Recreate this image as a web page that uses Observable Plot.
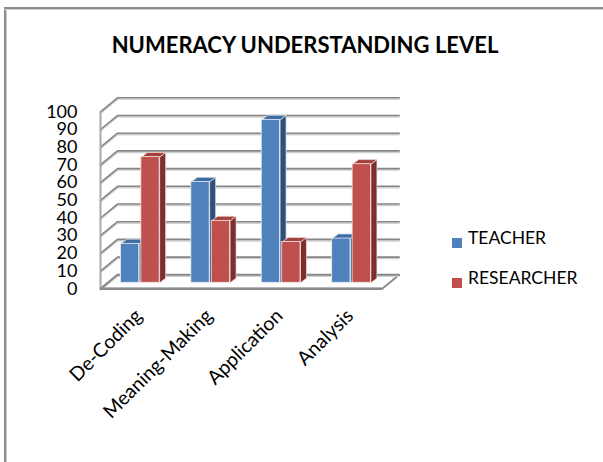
<!DOCTYPE html>
<html>
<head>
<meta charset="utf-8">
<script src="https://cdn.jsdelivr.net/npm/d3@7"></script>
<script src="https://cdn.jsdelivr.net/npm/@observablehq/plot@0.6"></script>
<style>
  html, body { margin: 0; padding: 0; background: #fff; }
  #chart { position: relative; width: 603px; height: 462px; overflow: hidden; font-family: Lato, "Open Sans", sans-serif; color: #000; }
  #borderL { position: absolute; left: 4px; top: 7px; width: 2px; height: 460px; background: #8c8c8c; border-right: 1px solid #cfcfcf; }
  #borderT { position: absolute; left: 4px; top: 7px; width: 603px; height: 2px; background: #8c8c8c; border-bottom: 1px solid #cfcfcf; }
  #title { position: relative; height: 70px; }
  #title span { position: absolute; left: 0; width: 610px; text-align: center; top: 31px; font-weight: 700; font-size: 22px; white-space: nowrap; }
  #plot { position: relative; }
  .legend { position: absolute; left: 452px; font-size: 17.5px; white-space: nowrap; }
  .legend i { position: absolute; left: 0; width: 10px; height: 10px; }
  .legend span { position: absolute; left: 16px; top: -11px; }
</style>
</head>
<body>
<div id="chart">
  <div id="borderL"></div>
  <div id="borderT"></div>
  <div id="title"><span>NUMERACY UNDERSTANDING LEVEL</span></div>
  <div id="plot"></div>
  <div id="legend"></div>
</div>
<script>
// ---- data ----
const categories = ["De-Coding", "Meaning-Making", "Application", "Analysis"];
const teacher = [22, 57, 92, 25];
const researcher = [71, 35, 23, 67];
const seriesNames = ["TEACHER", "RESEARCHER"];
const yTicks = [0, 10, 20, 30, 40, 50, 60, 70, 80, 90, 100];

// ---- colours ----
const colors = {
  TEACHER: {front: "#4f81bd", top: "#3f6ca3", side: "#2f5079"},
  RESEARCHER: {front: "#c0504d", top: "#a6403d", side: "#7e2f2d"}
};

// ---- 3D projection offsets (in data units) ----
const wallDx = 0.2415, wallDy = 7.9;     // depth of back wall
const barBase = 3.4;                      // bar front base (depth shift)
const barDx = 0.085, barDy = 2.6;         // bar depth
const slots = {TEACHER: [0.29, 0.55], RESEARCHER: [0.58, 0.84]};
const n = categories.length;

function faces(name, values) {
  const pts = [];
  const [a, b] = slots[name];
  values.forEach((v, i) => {
    const x0 = i + a, x1 = i + b, y0 = barBase, t = barBase + v;
    const side = [[x1, y0], [x1, t], [x1 + barDx, t + barDy], [x1 + barDx, y0 + barDy], [x1, y0]];
    const top = [[x0, t], [x1, t], [x1 + barDx, t + barDy], [x0 + barDx, t + barDy], [x0, t]];
    side.forEach(([x, y]) => pts.push({x, y, z: name + i + "s", fill: colors[name].side}));
    top.forEach(([x, y]) => pts.push({x, y, z: name + i + "t", fill: colors[name].top}));
  });
  return pts;
}
function fronts(name, values) {
  const [a, b] = slots[name];
  return values.map((v, i) => ({x1: i + a, x2: i + b, y1: barBase, y2: barBase + v, fill: colors[name].front}));
}

const gridPts = [];
yTicks.forEach(v => {
  gridPts.push({x: 0, y: v, z: v});
  gridPts.push({x: wallDx, y: v + wallDy, z: v});
  gridPts.push({x: n + wallDx, y: v + wallDy, z: v});
});
const floorPts = [
  {x: 0, y: 0}, {x: n, y: 0}, {x: n + wallDx, y: wallDy}, {x: wallDx, y: wallDy}, {x: 0, y: 0}
];

const plot = Plot.plot({
  width: 603,
  height: 392,
  marginLeft: 100,
  marginRight: 221.3,
  marginTop: 41.3,
  marginBottom: 173.7,
  x: {domain: [0, n], axis: null},
  y: {domain: [0, 100], axis: null},
  color: {type: "identity"},
  style: {fontFamily: "Lato, 'Open Sans', sans-serif", fontSize: "18px", color: "#000", background: "transparent", overflow: "visible"},
  marks: [
    Plot.line(floorPts, {x: "x", y: "y", fill: "#fff", stroke: "#8a8a8a", strokeWidth: 2}),
    Plot.line(gridPts, {x: "x", y: "y", z: "z", stroke: "#d0d0d0", strokeWidth: 1.5, dy: 1.5}),
    Plot.line(gridPts, {x: "x", y: "y", z: "z", stroke: "#858585", strokeWidth: 1.6}),
    Plot.ruleX([0], {y1: 0, y2: 100, stroke: "#a8a8a8", strokeWidth: 2}),
    Plot.ruleY([0], {x1: 0, x2: n, stroke: "#8a8a8a", strokeWidth: 2.5}),
    Plot.line(faces("TEACHER", teacher), {x: "x", y: "y", z: "z", fill: "fill", stroke: "#dfe6f0", strokeWidth: 0.7}),
    Plot.rect(fronts("TEACHER", teacher), {x1: "x1", x2: "x2", y1: "y1", y2: "y2", fill: "fill", stroke: "#e6ecf5", strokeWidth: 0.8}),
    Plot.line(faces("RESEARCHER", researcher), {x: "x", y: "y", z: "z", fill: "fill", stroke: "#f0dede", strokeWidth: 0.7}),
    Plot.rect(fronts("RESEARCHER", researcher), {x1: "x1", x2: "x2", y1: "y1", y2: "y2", fill: "fill", stroke: "#f5e6e6", strokeWidth: 0.8}),
    Plot.axisY(yTicks, {tickSize: 0, tickPadding: 23, fontSize: 18, label: null, tickFormat: d => String(d)}),
    Plot.text(categories, {x: (d, i) => i + 0.5, y: () => -13.5, text: d => d, rotate: -45, textAnchor: "end", dx: 3, fontSize: 19.5})
  ]
});
document.getElementById("plot").appendChild(plot);

// legend
const legend = document.getElementById("legend");
seriesNames.forEach((s, k) => {
  const d = document.createElement("div");
  d.className = "legend";
  d.style.top = (238 + k * 40) + "px";
  d.innerHTML = `<i style="background:${colors[s].front}"></i><span>${s}</span>`;
  legend.appendChild(d);
});
</script>
</body>
</html>
